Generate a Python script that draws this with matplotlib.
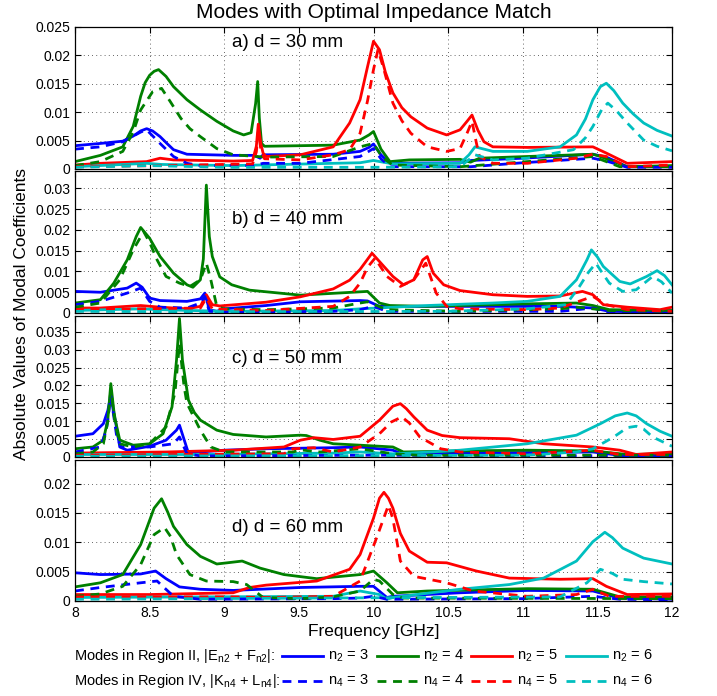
import numpy as np
import matplotlib
matplotlib.use('Agg')
import matplotlib.pyplot as plt
from matplotlib.lines import Line2D
from matplotlib.ticker import FuncFormatter

plt.rcParams['font.family'] = ['Liberation Sans', 'DejaVu Sans']
plt.rcParams['mathtext.fontset'] = 'custom'
plt.rcParams['mathtext.rm'] = 'Liberation Sans'

# (frequency [GHz], |coefficient|)
# panel a) d = 30 mm
a_n2_3 = [(8.0, .0041), (8.17, .0045), (8.32, .0049), (8.39, .0058), (8.44, .0067), (8.48, .0071), (8.52, .0067),
          (8.57, .0057), (8.62, .0044), (8.66, .0034), (8.75, .0026), (9.06, .0024), (9.2, .0024), (9.24, .0019),
          (9.26, .0025), (9.73, .0026), (9.91, .0031), (9.97, .0038), (10.0, .0044), (10.05, .0025), (10.11, .001),
          (10.58, .0011), (10.65, .0015), (11.0, .0019), (11.47, .0026), (11.56, .0021), (11.7, .0004), (12.0, .0004)]
a_n2_4 = [(8.0, .0013), (8.17, .0024), (8.32, .0039), (8.39, .0075), (8.44, .0128), (8.47, .0152), (8.5, .0165),
          (8.53, .0172), (8.56, .0175), (8.61, .0163), (8.66, .0145), (8.75, .0122), (8.84, .0104), (8.95, .0084),
          (9.06, .0067), (9.13, .006), (9.18, .0064), (9.21, .0115), (9.224, .0154), (9.235, .009), (9.25, .0045),
          (9.27, .004), (9.73, .0042), (9.91, .0051), (9.97, .006), (10.0, .0066), (10.05, .0035), (10.11, .0013),
          (10.24, .0016), (10.58, .0017), (10.65, .0012), (10.71, .0019), (11.03, .0022), (11.47, .0026),
          (11.52, .0022), (11.7, .0004), (12.0, .0006)]
a_n2_5 = [(8.0, .0007), (8.17, .001), (8.48, .0013), (8.57, .0019), (8.66, .0016), (9.06, .0014), (9.19, .0015),
          (9.215, .004), (9.228, .0079), (9.245, .0045), (9.26, .0028), (9.28, .0022), (9.51, .0025), (9.73, .0039),
          (9.84, .0081), (9.91, .0122), (9.96, .018), (10.0, .0225), (10.04, .021), (10.08, .017), (10.13, .0134),
          (10.19, .0108), (10.25, .0092), (10.36, .0072), (10.49, .006), (10.58, .0069), (10.63, .0085),
          (10.66, .0095), (10.7, .0068), (10.74, .0048), (10.8, .0039), (11.03, .0038), (11.47, .0039),
          (11.56, .0028), (11.7, .001), (12.0, .0013)]
a_n2_6 = [(8.0, .0004), (8.48, .001), (8.58, .0008), (9.06, .0006), (9.73, .001), (9.91, .0011), (10.0, .0015),
          (10.13, .0009), (10.58, .001), (10.64, .0025), (10.68, .0039), (10.8, .0031), (11.03, .0031), (11.25, .0039),
          (11.36, .006), (11.42, .0088), (11.47, .0122), (11.52, .0145), (11.56, .0151), (11.61, .0138),
          (11.67, .0116), (11.74, .0097), (11.81, .0081), (11.9, .0068), (12.0, .0058)]
a_n4_3 = [(8.0, .0035), (8.17, .0039), (8.32, .0048), (8.44, .0065), (8.48, .0069), (8.57, .0045), (8.66, .0022),
          (8.75, .001), (8.84, .0006), (9.2, .0006), (9.26, .001), (9.51, .001), (9.91, .0022), (10.0, .0036),
          (10.05, .0018), (10.11, .0004), (10.65, .0004), (11.0, .0011), (11.47, .0019), (11.56, .0014),
          (11.7, .0003), (12.0, .0003)]
a_n4_4 = [(8.0, .0006), (8.17, .0013), (8.32, .0031), (8.39, .0065), (8.44, .0104), (8.52, .0136), (8.58, .0142),
          (8.64, .0118), (8.71, .0089), (8.77, .0071), (8.84, .0057), (8.95, .0036), (9.06, .0025), (9.22, .0022),
          (9.28, .0021), (9.73, .0022), (9.91, .0039), (10.0, .0045), (10.06, .002), (10.13, .0007), (10.58, .0004),
          (11.03, .0013), (11.47, .0022), (11.65, .0004), (12.0, .0004)]
a_n4_5 = [(8.0, .0004), (8.57, .0006), (9.19, .0009), (9.215, .003), (9.228, .0065), (9.245, .0035), (9.27, .0018),
          (9.51, .0016), (9.73, .0025), (9.84, .0034), (9.91, .0063), (9.96, .012), (10.0, .0175), (10.03, .021),
          (10.07, .0175), (10.13, .0116), (10.19, .0085), (10.25, .0063), (10.36, .0039), (10.49, .0031),
          (10.58, .0036), (10.63, .0065), (10.66, .0084), (10.69, .0045), (10.71, .0022), (10.8, .001),
          (11.03, .001), (11.36, .0019), (11.47, .0026), (11.56, .0022), (11.7, .0004), (12.0, .0007)]
a_n4_6 = [(8.0, .0003), (8.5, .0006), (9.0, .0003), (10.0, .0003), (10.58, .0004), (10.68, .0025), (10.8, .0016),
          (11.03, .0019), (11.34, .0034), (11.42, .0055), (11.47, .0075), (11.53, .0105), (11.57, .0116),
          (11.63, .0102), (11.7, .0081), (11.81, .0051), (11.9, .004), (12.0, .0032)]

# panel b) d = 40 mm
b_n2_3 = [(8.0, .0052), (8.17, .005), (8.35, .006), (8.41, .0072), (8.45, .0062), (8.5, .0036), (8.57, .003),
          (8.75, .0028), (8.84, .0034), (8.87, .0048), (8.9, .0008), (8.95, .0004), (9.0, .001), (9.28, .0018),
          (9.51, .0027), (9.91, .003), (9.96, .0029), (10.04, .0016), (10.58, .0016), (11.25, .0016),
          (11.47, .0012), (11.58, .0004), (12.0, .0002)]
b_n2_4 = [(8.0, .0024), (8.17, .0032), (8.26, .0072), (8.35, .0128), (8.41, .0184), (8.44, .0206), (8.5, .018),
          (8.57, .0136), (8.66, .0096), (8.75, .0068), (8.79, .0062), (8.84, .008), (8.86, .013), (8.88, .0308),
          (8.9, .0184), (8.92, .0136), (8.97, .0087), (9.05, .0068), (9.17, .0055), (9.51, .0043), (9.91, .0051),
          (9.96, .0052), (10.04, .0024), (10.11, .0018), (10.36, .0016), (11.03, .0022), (11.36, .0024),
          (11.47, .0018), (11.58, .0008), (12.0, .0006)]
b_n2_5 = [(8.0, .0012), (8.17, .0012), (8.44, .0018), (8.57, .0014), (8.75, .001), (8.84, .0016), (8.88, .0044),
          (8.92, .002), (8.97, .0017), (9.28, .0026), (9.51, .0039), (9.73, .0058), (9.84, .0079), (9.91, .0105),
          (9.99, .0144), (10.07, .0112), (10.13, .0088), (10.2, .0068), (10.27, .008), (10.33, .0128),
          (10.36, .0136), (10.4, .0096), (10.47, .0068), (10.58, .0054), (10.8, .0044), (11.03, .004),
          (11.25, .0041), (11.4, .0052), (11.47, .0044), (11.54, .002), (11.7, .0014), (11.92, .0008), (12.0, .0014)]
b_n2_6 = [(8.0, .0006), (8.44, .001), (8.57, .0008), (9.0, .0004), (9.73, .0006), (9.91, .001), (10.36, .0018),
          (10.8, .0024), (11.03, .0028), (11.25, .004), (11.36, .008), (11.43, .0128), (11.46, .0152), (11.5, .0135),
          (11.54, .0112), (11.65, .0076), (11.72, .007), (11.83, .0088), (11.9, .0102), (11.95, .009), (12.0, .0068)]
b_n4_3 = [(8.0, .002), (8.17, .0028), (8.35, .0048), (8.44, .006), (8.5, .0028), (8.57, .0014), (8.75, .0012),
          (8.84, .0024), (8.87, .004), (8.9, .0004), (9.0, .0002), (9.73, .0004), (9.91, .0008), (10.0, .0016),
          (10.09, .0004), (11.25, .0004), (11.47, .0012), (11.58, .0002), (12.0, .0002)]
b_n4_4 = [(8.0, .0014), (8.17, .0024), (8.3, .008), (8.39, .0152), (8.46, .0196), (8.5, .017), (8.55, .0128),
          (8.61, .0088), (8.7, .0072), (8.77, .0064), (8.84, .008), (8.88, .012), (8.91, .008), (8.95, .0016),
          (9.0, .001), (9.28, .0008), (9.73, .0012), (9.91, .0024), (9.96, .0027), (10.09, .0008), (10.58, .0004),
          (11.25, .001), (11.36, .0014), (11.58, .0006), (12.0, .0004)]
b_n4_5 = [(8.0, .0008), (8.84, .0012), (8.88, .0036), (8.92, .001), (9.28, .0006), (9.73, .0016), (9.84, .004),
          (9.91, .0072), (9.96, .011), (10.01, .0132), (10.09, .0088), (10.18, .0064), (10.27, .008), (10.35, .012),
          (10.42, .0048), (10.49, .0016), (10.58, .001), (11.03, .0008), (11.25, .0012), (11.47, .004),
          (11.56, .002), (11.7, .0008), (12.0, .0004)]
b_n4_6 = [(8.0, .0004), (9.0, .0003), (10.5, .0004), (11.03, .001), (11.29, .002), (11.38, .0064), (11.44, .0098),
          (11.49, .012), (11.53, .0098), (11.58, .0072), (11.67, .0052), (11.76, .0056), (11.87, .0088),
          (11.93, .0075), (12.0, .0048)]

# panel c) d = 50 mm
c_n2_3 = [(8.0, .0058), (8.12, .0065), (8.19, .0093), (8.22, .013), (8.24, .0173), (8.26, .012), (8.27, .0103),
          (8.3, .0028), (8.35, .0019), (8.5, .003), (8.61, .0047), (8.68, .0075), (8.7, .0089), (8.74, .0037),
          (8.76, .0011), (8.84, .0014), (9.0, .0019), (9.28, .0023), (9.73, .0026), (9.91, .0028), (10.13, .0019),
          (10.2, .0007), (10.58, .0011), (11.47, .0014), (11.7, .0002), (12.0, .0003)]
c_n2_4 = [(8.0, .0023), (8.12, .0028), (8.19, .0047), (8.22, .0105), (8.24, .0205), (8.26, .013), (8.27, .0103),
          (8.3, .0047), (8.39, .0033), (8.5, .0037), (8.59, .0065), (8.65, .014), (8.68, .027), (8.7, .0387),
          (8.72, .027), (8.76, .0159), (8.8, .0124), (8.84, .0103), (8.95, .0075), (9.06, .0063), (9.28, .0056),
          (9.51, .0061), (9.55, .006), (9.64, .0047), (9.73, .0037), (9.91, .0033), (10.13, .0028), (10.2, .0014),
          (10.58, .0017), (11.03, .0019), (11.47, .0017), (11.7, .0007), (12.0, .0009)]
c_n2_5 = [(8.0, .0011), (8.61, .0014), (9.06, .0019), (9.4, .0028), (9.51, .0047), (9.6, .0054), (9.73, .0049),
          (9.91, .0058), (10.04, .0103), (10.13, .0142), (10.18, .0149), (10.22, .0135), (10.27, .0112),
          (10.36, .0075), (10.46, .006), (10.58, .0054), (10.91, .0051), (11.14, .0037), (11.47, .0028),
          (11.65, .0019), (11.76, .0007), (12.0, .0014)]
c_n2_6 = [(8.0, .0007), (8.84, .0007), (9.73, .0011), (9.91, .0014), (10.13, .0009), (10.25, .0011), (10.58, .0019),
          (11.03, .0037), (11.36, .0061), (11.52, .0093), (11.62, .0115), (11.7, .0123), (11.76, .0115),
          (11.83, .0093), (11.92, .0072), (12.0, .0058)]
c_n4_3 = [(8.0, .0014), (8.17, .0028), (8.21, .0075), (8.24, .017), (8.28, .0056), (8.31, .0028), (8.5, .0028),
          (8.66, .0037), (8.7, .0056), (8.75, .0009), (8.84, .0003), (10.0, .0005), (12.0, .0003)]
c_n4_4 = [(8.0, .0009), (8.12, .0014), (8.19, .0037), (8.22, .01), (8.24, .0187), (8.27, .009), (8.3, .0037),
          (8.39, .0028), (8.5, .0037), (8.61, .0084), (8.67, .018), (8.7, .0317), (8.73, .02), (8.75, .015),
          (8.84, .0075), (8.91, .0028), (9.0, .0014), (9.46, .0014), (9.51, .002), (9.64, .0014), (9.91, .0023),
          (10.13, .0009), (10.3, .0005), (12.0, .0005)]
c_n4_5 = [(8.0, .0005), (9.4, .0009), (9.46, .0023), (9.6, .0026), (9.73, .0014), (9.91, .0028), (10.04, .0065),
          (10.12, .0098), (10.19, .0112), (10.24, .0095), (10.31, .0056), (10.45, .0023), (10.58, .0014),
          (11.03, .0009), (11.47, .0019), (11.65, .0007), (12.0, .0007)]
c_n4_6 = [(8.0, .0002), (11.03, .0005), (11.36, .0014), (11.47, .0023), (11.61, .0056), (11.7, .0082),
          (11.76, .0086), (11.81, .0078), (11.87, .0056), (12.0, .003)]

# panel d) d = 60 mm
d_n2_3 = [(8.0, .0048), (8.17, .0045), (8.44, .0046), (8.54, .0051), (8.61, .0038), (8.7, .0024), (8.84, .002),
          (9.06, .0018), (9.51, .0023), (9.91, .0025), (10.0, .0025), (10.09, .0006), (10.13, .0008), (10.58, .0014),
          (11.03, .0018), (11.47, .0017), (11.65, .0005), (12.0, .0003)]
d_n2_4 = [(8.0, .0024), (8.17, .0031), (8.32, .0045), (8.44, .0096), (8.53, .0158), (8.58, .0174), (8.62, .0152),
          (8.66, .0127), (8.75, .0096), (8.84, .0076), (8.95, .0063), (9.02, .0065), (9.12, .0068), (9.24, .0056),
          (9.4, .0045), (9.62, .0038), (9.91, .0045), (10.0, .0051), (10.09, .0031), (10.16, .0014), (10.36, .0017),
          (11.03, .0021), (11.47, .002), (11.65, .0007), (12.0, .0007)]
d_n2_5 = [(8.0, .0011), (8.5, .0011), (9.06, .0014), (9.17, .0023), (9.28, .0027), (9.62, .0034), (9.84, .0054),
          (9.91, .0079), (10.0, .0141), (10.04, .0175), (10.07, .0185), (10.1, .0175), (10.13, .0158),
          (10.18, .0115), (10.24, .0085), (10.36, .0066), (10.49, .0065), (10.69, .0051), (10.91, .0039),
          (11.25, .0037), (11.47, .0038), (11.56, .0025), (11.7, .0011), (12.0, .0012)]
d_n2_6 = [(8.0, .0006), (9.73, .0008), (9.91, .0017), (10.04, .0011), (10.09, .0003), (10.13, .0006), (10.58, .002),
          (10.91, .0028), (11.14, .0039), (11.36, .0068), (11.47, .0101), (11.55, .0117), (11.6, .0108),
          (11.67, .009), (11.81, .0073), (12.0, .0063)]
d_n4_3 = [(8.0, .0017), (8.17, .0023), (8.44, .0031), (8.55, .0034), (8.66, .0008), (8.84, .0003), (9.73, .0004),
          (9.91, .0005), (10.0, .0008), (10.09, .0003), (11.0, .0004), (11.47, .0008), (11.65, .0003), (12.0, .0002)]
d_n4_4 = [(8.0, .0008), (8.17, .0012), (8.32, .0025), (8.44, .0062), (8.53, .0113), (8.6, .0125), (8.64, .011),
          (8.68, .0079), (8.77, .0045), (8.88, .0034), (9.06, .0033), (9.15, .0028), (9.26, .0006), (9.51, .0004),
          (9.73, .0007), (9.91, .0017), (10.0, .0037), (10.04, .0034), (10.13, .0011), (10.2, .0005), (12.0, .0004)]
d_n4_5 = [(8.0, .0007), (9.06, .0007), (9.28, .0006), (9.73, .0008), (9.91, .0034), (10.02, .0107), (10.1, .0163),
          (10.13, .014), (10.18, .0068), (10.27, .0042), (10.49, .0031), (10.67, .0017), (11.03, .0008),
          (11.36, .0011), (11.47, .002), (11.58, .0008), (12.0, .0008)]
d_n4_6 = [(8.0, .0003), (11.25, .0007), (11.43, .0031), (11.52, .0054), (11.6, .0047), (11.67, .0037),
          (11.81, .0033), (12.0, .0029)]

panel_labels = ['a) d = 30 mm', 'b) d = 40 mm', 'c) d = 50 mm', 'd) d = 60 mm']
y_max = [0.025, 0.0342, 0.0394, 0.024]
y_top_tick = [0.025, 0.03, 0.035, 0.02]
x_ticks = [8, 8.5, 9, 9.5, 10, 10.5, 11, 11.5, 12]
modes = [3, 4, 5, 6]
colors = ['#0000ff', '#008000', '#ff0000', '#00bfbf']

solid = [[a_n2_3, a_n2_4, a_n2_5, a_n2_6], [b_n2_3, b_n2_4, b_n2_5, b_n2_6],
         [c_n2_3, c_n2_4, c_n2_5, c_n2_6], [d_n2_3, d_n2_4, d_n2_5, d_n2_6]]
dashed = [[a_n4_3, a_n4_4, a_n4_5, a_n4_6], [b_n4_3, b_n4_4, b_n4_5, b_n4_6],
          [c_n4_3, c_n4_4, c_n4_5, c_n4_6], [d_n4_3, d_n4_4, d_n4_5, d_n4_6]]
label_pos = [0.894, 0.655, 0.70, 0.518]

W, H = 717, 696
fig = plt.figure(figsize=(W / 100, H / 100), dpi=100)
fig.patch.set_facecolor('white')

# panel edges in pixels (top, bottom)
edges = [(27, 169), (171, 313), (316, 457), (460, 601)]
left, right = 75, 672
lw = 2.0
dash = (3.2, 2.4)

fmt = FuncFormatter(lambda v, p: '%g' % v)
axes = []
for i in range(4):
    top, bot = edges[i]
    ax = fig.add_axes([left / W, 1 - bot / H, (right - left) / W, (bot - top) / H])
    axes.append(ax)
    for k in range(4):
        arr = np.array(solid[i][k])
        ax.plot(arr[:, 0], arr[:, 1], color=colors[k], lw=lw, solid_joinstyle='round')
    for k in range(4):
        arr = np.array(dashed[i][k])
        ax.plot(arr[:, 0], arr[:, 1], color=colors[k], lw=lw, ls=(0, dash))
    ax.set_xlim(8, 12)
    ax.set_ylim(0, y_max[i])
    ax.set_xticks(x_ticks)
    ax.set_yticks(np.arange(0, y_top_tick[i] + 1e-6, 0.005))
    ax.yaxis.set_major_formatter(fmt)
    ax.xaxis.set_major_formatter(fmt)
    ax.grid(True, color='k', ls=(0, (1, 4)), lw=0.6, alpha=0.8)
    ax.tick_params(direction='in', top=True, right=True, labelsize=10, length=4, width=0.8)
    for s in ax.spines.values():
        s.set_linewidth(0.9)
    if i < 3:
        ax.tick_params(labelbottom=False)
    ax.text(0.263, label_pos[i], panel_labels[i], transform=ax.transAxes, fontsize=13.5, va='center', ha='left')

axes[-1].set_xlabel('Frequency [GHz]', fontsize=12.5, labelpad=3)
fig.text(0.5 * (left + right) / W, 1 - 12 / H, 'Modes with Optimal Impedance Match',
         fontsize=15, ha='center', va='center')
fig.text(22 / W, 1 - 314 / H, 'Absolute Values of Modal Coefficients', fontsize=12.5,
         rotation=90, ha='center', va='center')

# legend built by hand, two rows
row_y = [656, 681]
row_txt = ['Modes in Region II, |E$_\\mathregular{n2}$ + F$_\\mathregular{n2}$|:',
           'Modes in Region IV, |K$_\\mathregular{n4}$ + L$_\\mathregular{n4}$|:']
row_sym = ['n$_\\mathregular{2}$ = %d', 'n$_\\mathregular{4}$ = %d']
row_ls = ['-', (0, dash)]
line_start = [282, 377, 471, 566]
for r in range(2):
    yf = 1 - row_y[r] / H
    fig.text(74 / W, yf, row_txt[r], fontsize=10.5, ha='left', va='center')
    for k in range(4):
        x0 = line_start[k]
        fig.add_artist(Line2D([x0 / W, (x0 + 41) / W], [yf, yf], transform=fig.transFigure,
                              color=colors[k], lw=lw, ls=row_ls[r]))
        fig.text((x0 + 46) / W, yf, row_sym[r] % modes[k], fontsize=10.5, ha='left', va='center')

fig.savefig('out.png', dpi=100)
